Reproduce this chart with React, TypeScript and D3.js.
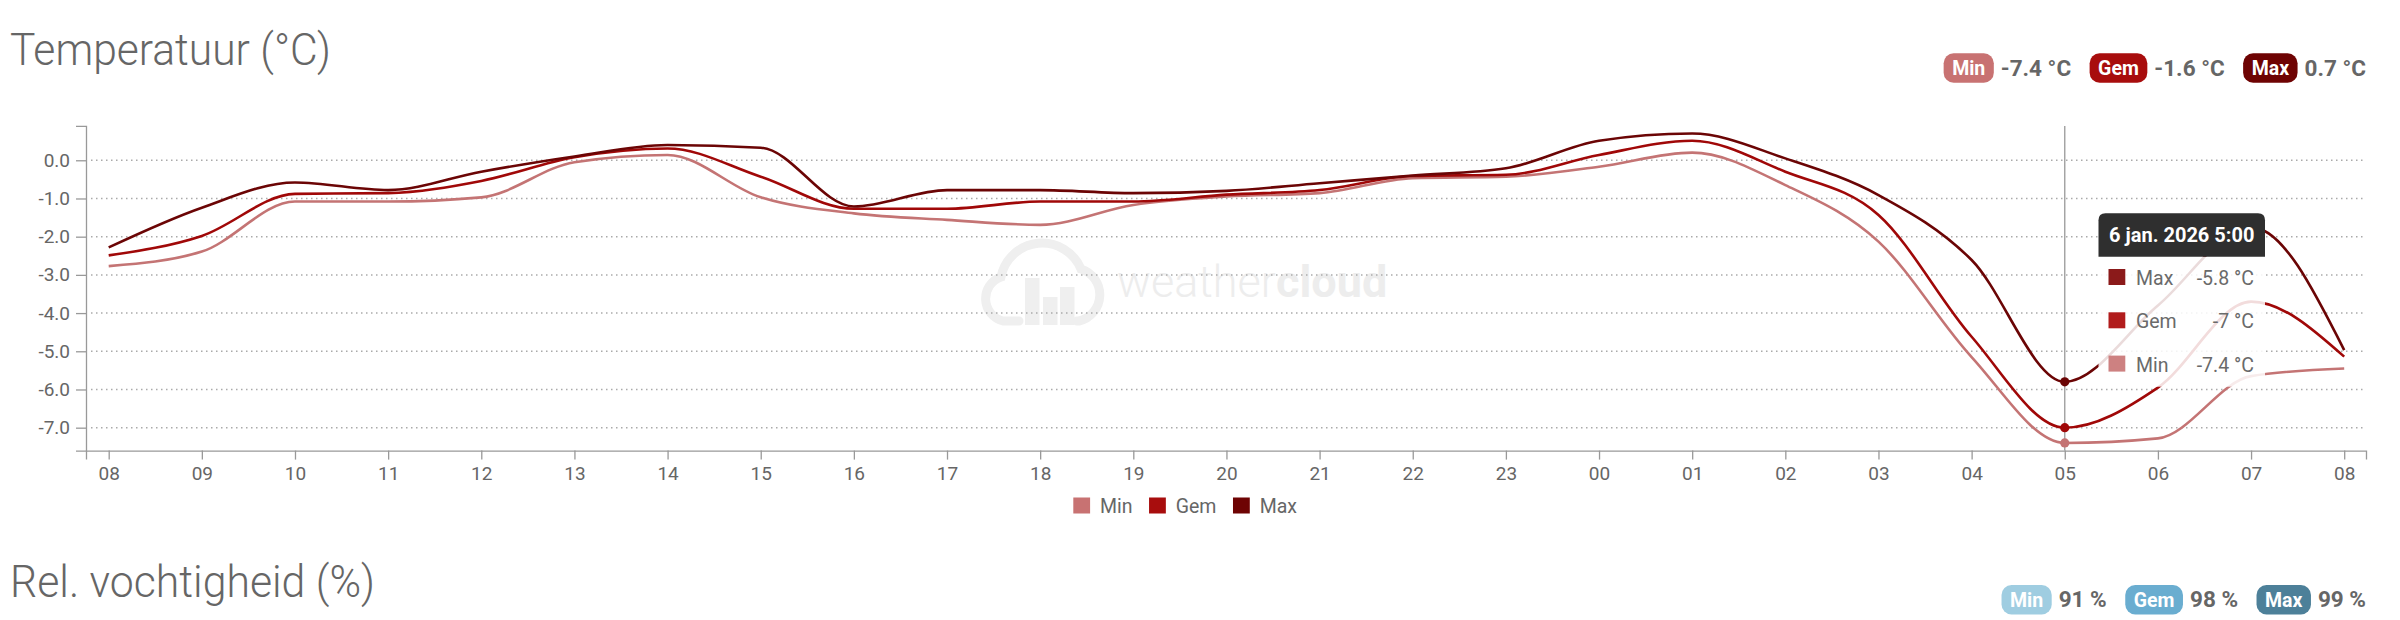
import React, { useEffect, useRef } from 'react';
import * as d3 from 'd3';

const hours = ["08","09","10","11","12","13","14","15","16","17","18","19","20","21","22","23","00","01","02","03","04","05","06","07","08"];
const minTemp = [-2.77,-2.39,-1.08,-1.08,-0.97,-0.05,0.14,-0.97,-1.39,-1.56,-1.69,-1.17,-0.95,-0.86,-0.47,-0.43,-0.17,0.20,-0.65,-2.13,-5.15,-7.4,-7.28,-5.65,-5.45];
const gemTemp = [-2.49,-1.98,-0.88,-0.86,-0.54,0.08,0.31,-0.43,-1.27,-1.27,-1.08,-1.08,-0.9,-0.78,-0.41,-0.38,0.14,0.51,-0.30,-1.43,-4.62,-7.0,-5.95,-3.7,-5.14];
const maxTemp = [-2.28,-1.24,-0.58,-0.78,-0.30,0.10,0.40,0.33,-1.21,-0.78,-0.78,-0.86,-0.8,-0.60,-0.40,-0.21,0.51,0.70,0.05,-0.91,-2.61,-5.8,-3.8,-1.75,-4.97];
const yTicks = [0, -1, -2, -3, -4, -5, -6, -7];

const seriesNames = ["Min", "Gem", "Max"];
const seriesColors = ["#c47474", "#a00808", "#6b0505"];
const tempSummary = ["-7.4 °C", "-1.6 °C", "0.7 °C"];
const pillTempColors = ["#c87272", "#a80d0d", "#6e0303"];

const humNames = ["Min", "Gem", "Max"];
const humColors = ["#9fcde1", "#6aadd0", "#4d8099"];
const humSummary = ["91 %", "98 %", "99 %"];

const tooltipTitle = "6 jan. 2026 5:00";
const hoverIndex = 21;
const tooltipNames = ["Max", "Gem", "Min"];
const tooltipValues = ["-5.8 °C", "-7 °C", "-7.4 °C"];
const tooltipColors = ["#8b1a1a", "#b11c1c", "#cd8181"];

const FONT = 'Roboto, sans-serif';
const GRAY = '#666';

export default function App() {
  const ref = useRef<SVGSVGElement>(null);

  useEffect(() => {
    const svg = d3.select(ref.current as SVGSVGElement);
    svg.selectAll('*').remove();
    const W = 2400, H = 620;

    const measure = (t: string, size: number, weight: number) => {
      const el = svg.append('text').attr('font-family', FONT).attr('font-size', size).attr('font-weight', weight).text(t);
      const w = (el.node() as SVGTextElement).getComputedTextLength();
      el.remove();
      return w;
    };

    svg.append('rect').attr('width', W).attr('height', H).attr('fill', '#fff');

    // Titles
    svg.append('text').attr('x', 10).attr('y', 65).attr('font-family', FONT).attr('font-weight', 300)
      .attr('font-size', 44).attr('fill', GRAY).attr('textLength', 321).attr('lengthAdjust', 'spacingAndGlyphs')
      .text('Temperatuur (°C)');
    svg.append('text').attr('x', 10).attr('y', 597).attr('font-family', FONT).attr('font-weight', 300)
      .attr('font-size', 44).attr('fill', GRAY).attr('textLength', 365).attr('lengthAdjust', 'spacingAndGlyphs')
      .text('Rel. vochtigheid (%)');

    const x = d3.scaleLinear().domain([-0.2437, 24.234]).range([86, 2366]);
    const y = d3.scaleLinear().domain([-7.6, 0.9]).range([450.6, 125.9]);

    // Watermark
    const wm = svg.append('g').attr('transform', 'translate(979,237)');
    wm.append('path')
      .attr('d', 'M 40 84 L 24 84 A 23 23 0 0 1 22 40 A 42 42 0 0 1 102 32 A 27 27 0 0 1 100 84 L 98 84')
      .attr('fill', 'none').attr('stroke', '#efefef').attr('stroke-width', 9).attr('stroke-linecap', 'round');
    [[46, 41], [64, 60], [81, 50]].forEach(([bx, by]) => {
      wm.append('rect').attr('x', bx).attr('y', by).attr('width', 14.5).attr('height', 88 - by).attr('fill', '#efefef');
    });
    const wt = svg.append('text').attr('x', 1117).attr('y', 297).attr('font-family', FONT).attr('font-size', 45)
      .attr('fill', '#ededed');
    wt.append('tspan').attr('font-weight', 300).text('weather');
    wt.append('tspan').attr('font-weight', 700).text('cloud');

    // Grid lines
    svg.append('g').selectAll('line').data(yTicks).join('line')
      .attr('x1', 91).attr('x2', 2366).attr('y1', d => y(d)).attr('y2', d => y(d))
      .attr('stroke', '#aaa').attr('stroke-width', 1.5).attr('stroke-dasharray', '1.5,3.5');

    // Axes
    const yAxis = d3.axisLeft(y).tickValues(yTicks).tickSize(10).tickSizeOuter(10).tickPadding(6)
      .tickFormat((d: any) => (+d).toFixed(1));
    const gy = svg.append('g').attr('transform', 'translate(86,0)').call(yAxis as any);
    const xAxis = d3.axisBottom(x).tickValues(d3.range(hours.length)).tickSize(9).tickSizeOuter(9).tickPadding(7)
      .tickFormat((d: any) => hours[+d]);
    const gx = svg.append('g').attr('transform', 'translate(0,450.6)').call(xAxis as any);
    [gy, gx].forEach(g => {
      g.attr('font-family', FONT).attr('font-size', 19);
      g.selectAll('path, line').attr('stroke', '#999').attr('stroke-width', 1.3);
      g.selectAll('text').attr('fill', GRAY);
    });

    // Crosshair
    svg.append('line').attr('x1', x(hoverIndex)).attr('x2', x(hoverIndex)).attr('y1', 125.9).attr('y2', 450.6)
      .attr('stroke', '#999').attr('stroke-width', 1.3);

    // Lines
    const series = [minTemp, gemTemp, maxTemp];
    const line = d3.line<number>().x((_, i) => x(i)).y(d => y(d)).curve(d3.curveMonotoneX);
    series.forEach((s, k) => {
      svg.append('path').attr('d', line(s) as string).attr('fill', 'none')
        .attr('stroke', seriesColors[k]).attr('stroke-width', 2.6);
    });
    series.forEach((s, k) => {
      svg.append('circle').attr('cx', x(hoverIndex)).attr('cy', y(s[hoverIndex])).attr('r', 4.6)
        .attr('fill', seriesColors[k]);
    });

    // Tooltip
    const tx0 = 2098.5, tx1 = 2265, ty0 = 213.3, ty1 = 256.7, r = 7;
    svg.append('rect').attr('x', tx0).attr('y', ty1).attr('width', tx1 - tx0).attr('height', 130)
      .attr('fill', '#fff').attr('opacity', 0.86);
    svg.append('path')
      .attr('d', `M${tx0},${ty1} V${ty0 + r} Q${tx0},${ty0} ${tx0 + r},${ty0} H${tx1 - r} Q${tx1},${ty0} ${tx1},${ty0 + r} V${ty1} Z`)
      .attr('fill', '#2f2f2f');
    svg.append('text').attr('x', (tx0 + tx1) / 2).attr('y', 241.7).attr('text-anchor', 'middle')
      .attr('font-family', FONT).attr('font-weight', 700).attr('font-size', 20).attr('fill', '#fff').text(tooltipTitle);
    tooltipNames.forEach((nm, k) => {
      const base = 285 + k * 43.3;
      svg.append('rect').attr('x', 2108.5).attr('y', base - 16).attr('width', 16.8).attr('height', 16)
        .attr('fill', tooltipColors[k]);
      svg.append('text').attr('x', 2136).attr('y', base).attr('font-family', FONT).attr('font-size', 19.5)
        .attr('fill', '#6a6a6a').text(nm);
      svg.append('text').attr('x', 2254).attr('y', base).attr('text-anchor', 'end').attr('font-family', FONT)
        .attr('font-size', 19.5).attr('fill', '#6a6a6a').text(tooltipValues[k]);
    });

    // Bottom legend
    let lx = 1073.3;
    seriesNames.forEach((nm, k) => {
      svg.append('rect').attr('x', lx).attr('y', 497.5).attr('width', 16.8).attr('height', 16)
        .attr('fill', pillTempColors[k]);
      svg.append('text').attr('x', lx + 26.7).attr('y', 513.3).attr('font-family', FONT).attr('font-size', 19.5)
        .attr('fill', GRAY).text(nm);
      lx += 26.7 + measure(nm, 19.5, 400) + 16.5;
    });

    // Pills
    const pills = (names: string[], colors: string[], values: string[], yTop: number) => {
      let xr = 2366;
      for (let k = names.length - 1; k >= 0; k--) {
        const vw = measure(values[k], 22.5, 700);
        svg.append('text').attr('x', xr - vw).attr('y', yTop + 22.3).attr('font-family', FONT)
          .attr('font-weight', 700).attr('font-size', 22.5).attr('fill', GRAY).text(values[k]);
        const pRight = xr - vw - 7;
        const pw = measure(names[k], 19.5, 700) + 17;
        svg.append('rect').attr('x', pRight - pw).attr('y', yTop).attr('width', pw).attr('height', 29.5)
          .attr('rx', 10).attr('fill', colors[k]);
        svg.append('text').attr('x', pRight - pw / 2).attr('y', yTop + 21.7).attr('text-anchor', 'middle')
          .attr('font-family', FONT).attr('font-weight', 700).attr('font-size', 19.5).attr('fill', '#fff').text(names[k]);
        xr = pRight - pw - 18.5;
      }
    };
    pills(seriesNames, pillTempColors, tempSummary, 53.3);
    pills(humNames, humColors, humSummary, 585);
  }, []);

  return (
    <svg ref={ref} width={2400} height={620}
      style={{ position: 'absolute', left: 0, top: 0, display: 'block' }} />
  );
}
